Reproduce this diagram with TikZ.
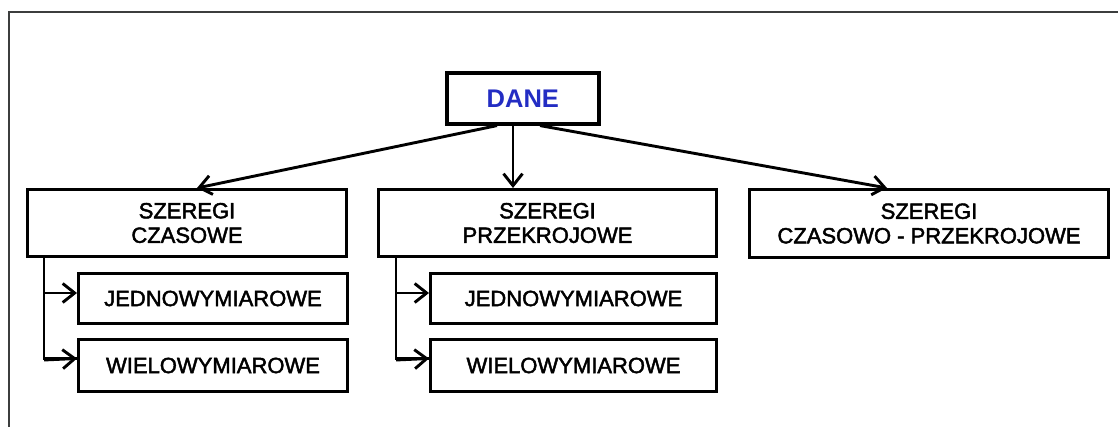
\documentclass[tikz,border=0pt]{standalone}
\usepackage{fontspec}
\setmainfont{Liberation Sans}
\newfontfamily\labelfont{Liberation Sans}[FakeBold=2]
\usetikzlibrary{arrows.meta,calc}
\definecolor{daneblue}{RGB}{35,45,195}
\definecolor{framegray}{RGB}{60,62,62}
\begin{document}
\begin{tikzpicture}[x=1pt,y=-1pt,
  box/.style={draw, line width=3pt, anchor=north west, inner sep=0pt,
    align=center, font=\labelfont\fontsize{22}{24.5}\selectfont},
  topbox/.style={draw, line width=3.6pt, anchor=north west, inner sep=0pt,
    font=\fontsize{25.5}{28}\selectfont\bfseries, text=daneblue},
  arr/.style={line width=2.9pt, -{Straight Barb[length=12pt,width=19pt,line width=2.9pt]}},
  link/.style={line width=2.9pt}]
  \useasboundingbox (0,0) rectangle (1118,427);
  \fill[white] (0,0) rectangle (1118,427);
  % outer frame (top and left edges)
  \draw[framegray, line width=2.4pt] (9,427) -- (9,12) -- (1118,12);

  % root
  \node[topbox, minimum width=152pt, minimum height=51pt] (dane) at (445,71) {DANE};

  % first level
  \node[box, minimum width=319pt, minimum height=67pt] (ts) at (26,188) {SZEREGI\\CZASOWE};
  \node[box, minimum width=338pt, minimum height=67pt] (cs) at (377,188) {SZEREGI\\PRZEKROJOWE};
  \node[box, minimum width=359pt, minimum height=68pt] (pn) at (748,188) {SZEREGI\\CZASOWO - PRZEKROJOWE};

  % second level
  \node[box, minimum width=269pt, minimum height=50pt] (ts1) at (77,272) {JEDNOWYMIAROWE};
  \node[box, minimum width=269pt, minimum height=52pt] (ts2) at (77,338) {WIELOWYMIAROWE};
  \node[box, minimum width=286pt, minimum height=50pt] (cs1) at (429,272) {JEDNOWYMIAROWE};
  \node[box, minimum width=286pt, minimum height=52pt] (cs2) at (429,338) {WIELOWYMIAROWE};

  % arrows from the root
  \draw[arr] ($(dane.south west)+(52,0)$) -- ($(ts.north west)+(171,0)$);
  \draw[arr] ($(dane.south west)+(68,0)$) -- ($(cs.north west)+(136,0)$);
  \draw[arr] ($(dane.south west)+(95,0)$) -- ($(pn.north west)+(139,0)$);

  % branches of the left column
  \coordinate (tsb) at ($(ts.south west)+(18,0)$);
  \coordinate (tsk) at ($(tsb)+(0,35)$);
  \draw[link] (tsb) |- ($(ts2.west)+(0,-7)$);
  \draw[arr] (tsk) -- (tsk -| ts1.west);
  \draw[arr] ($(tsb)+(0,102)$) -- ($(ts2.west)+(0,-7)$);

  % branches of the middle column
  \coordinate (csb) at ($(cs.south west)+(19,0)$);
  \coordinate (csk) at ($(csb)+(0,35)$);
  \draw[link] (csb) |- ($(cs2.west)+(0,-7)$);
  \draw[arr] (csk) -- (csk -| cs1.west);
  \draw[arr] ($(csb)+(0,102)$) -- ($(cs2.west)+(0,-7)$);
\end{tikzpicture}
\end{document}
